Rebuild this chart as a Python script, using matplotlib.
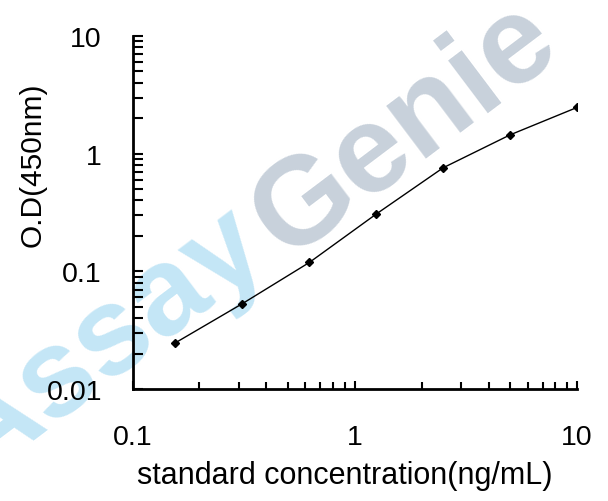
import matplotlib
matplotlib.use("Agg")
import matplotlib.pyplot as plt
from matplotlib.ticker import LogLocator, FixedLocator, NullFormatter

conc = [0.156, 0.3125, 0.625, 1.25, 2.5, 5, 10]
od = [0.0247, 0.0532, 0.119, 0.307, 0.759, 1.445, 2.47]
xticks = [0.1, 1, 10]
xticklabels = ["0.1", "1", "10"]
yticks = [0.01, 0.1, 1, 10]
yticklabels = ["0.01", "0.1", "1", "10"]

plt.rcParams['font.family'] = ['Liberation Sans', 'DejaVu Sans']

fig = plt.figure(figsize=(6.08, 5.02), dpi=100)
ax = fig.add_axes([132.5/608, 1-390/502, (577-132.5)/608, (390-37)/502])
ax.set_facecolor('none')

# watermark
fig.text(-22/608, 1-480/502, "Assay", fontsize=90, fontweight='bold', color='#c4e6f6',
         rotation=37, rotation_mode='anchor', ha='left', va='baseline', zorder=-5)
fig.text(286/608, 1-260/502, "Genie", fontsize=90, fontweight='bold', color='#c8d1db',
         rotation=37, rotation_mode='anchor', ha='left', va='baseline', zorder=-5)

ax.plot(conc, od, color='black', lw=1.0, marker='D', markersize=4.5,
        markerfacecolor='black', markeredgecolor='black')
ax.set_xscale('log')
ax.set_yscale('log')
ax.set_xlim(0.1, 10)
ax.set_ylim(0.01, 10)

ax.xaxis.set_major_locator(FixedLocator(xticks))
ax.set_xticklabels(xticklabels)
ax.yaxis.set_major_locator(FixedLocator(yticks))
ax.set_yticklabels(yticklabels)
ax.xaxis.set_minor_locator(LogLocator(base=10, subs=range(2, 10)))
ax.yaxis.set_minor_locator(LogLocator(base=10, subs=range(2, 10)))
ax.xaxis.set_minor_formatter(NullFormatter())
ax.yaxis.set_minor_formatter(NullFormatter())

for s in ['top', 'right']:
    ax.spines[s].set_visible(False)
for s in ['left', 'bottom']:
    ax.spines[s].set_linewidth(2)

ax.tick_params(axis='y', which='both', direction='in', length=7, width=1.5, pad=22, labelsize=20.5)
ax.tick_params(axis='x', which='major', direction='in', length=6, width=1.5, pad=25, labelsize=20.5)
ax.tick_params(axis='x', which='minor', direction='in', length=5, width=1.5)

ax.set_xlabel("standard concentration(ng/mL)", fontsize=22)
ax.xaxis.set_label_coords((345-132.5)/444.5, -(476-390)/353)
ax.xaxis.label.set_va('center')
ax.set_ylabel("O.D(450nm)", fontsize=21.5)
ax.yaxis.label.set_va('center')
ax.yaxis.set_label_coords((33-132.5)/444.5, (390-165)/353)

fig.savefig("out.png", dpi=100)
